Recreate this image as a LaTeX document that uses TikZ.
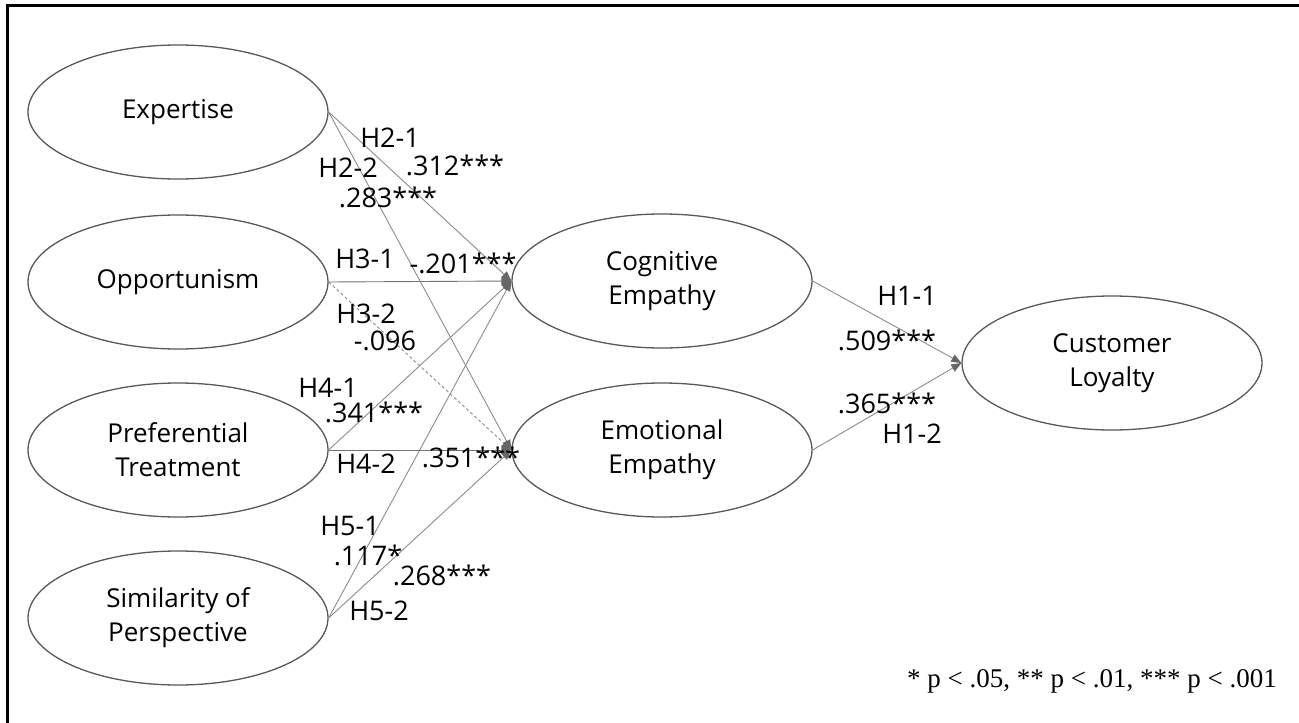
\documentclass[tikz,border=0pt]{standalone}
\usepackage{fontspec}
\setmainfont{Open Sans}
\newfontfamily\legendfont{Liberation Serif}
\usetikzlibrary{shapes.geometric,arrows.meta}

\tikzset{
  construct/.style={ellipse, draw=black!65, line width=1.3pt,
    minimum width=300pt, minimum height=134pt, inner sep=0pt,
    align=center, font=\fontsize{26}{34}\selectfont},
  effect/.style={draw=black!45, line width=0.9pt,
    -{Triangle[length=10pt,width=8pt,color=black!60]}},
  nseffect/.style={effect, dash pattern=on 3pt off 2.5pt},
  coef/.style={anchor=base, inner sep=0pt, font=\fontsize{27}{32}\selectfont}
}

\begin{document}
\begin{tikzpicture}[x=1pt, y=-1pt]
  \useasboundingbox (0,0) rectangle (1299,723);
  \fill[white] (0,0) rectangle (1299,723);

  % frame
  \draw[line width=3pt] (7.5,723) -- (7.5,5.5) -- (1299,5.5);

  % antecedents
  \node[construct] (exp) at (178,112) {Expertise};
  \node[construct] (opp) at (178,282) {Opportunism};
  \node[construct] (pre) at (178,450) {Preferential\\Treatment};
  \node[construct] (sim) at (178,618) {Similarity of\\Perspective};

  % mediators
  \node[construct] (cog) at (662,281) {Cognitive\\Empathy};
  \node[construct] (emo) at (662,450) {Emotional\\Empathy};

  % outcome
  \node[construct] (loy) at (1112,363) {Customer\\Loyalty};

  % paths to cognitive empathy
  \draw[effect] (exp.east) -- (cog.west);
  \draw[effect, draw=black!55] (opp.east) -- (cog.west);
  \draw[effect] (pre.east) -- (cog.west);
  \draw[effect] (sim.east) -- (cog.west);

  % paths to emotional empathy
  \draw[effect] (exp.east) -- (emo.west);
  \draw[nseffect] (opp.east) -- (emo.west);
  \draw[effect, draw=black!55] (pre.east) -- (emo.west);
  \draw[effect] (sim.east) -- (emo.west);

  % paths to loyalty
  \draw[effect] (cog.east) -- (loy.west);
  \draw[effect] (emo.east) -- (loy.west);

  % hypothesis labels and coefficients
  \node[coef] (h21) at (390,147) {H2-1};
  \node[coef] (h22) at (348,177) {H2-2};
  \node[coef] (c21) at (455,175) {.312***};
  \node[coef] (c22) at (388,207) {.283***};
  \node[coef] (h31) at (365,268) {H3-1};
  \node[coef] (c31) at (463,273) {-.201***};
  \node[coef] (h32) at (366,323) {H3-2};
  \node[coef] (c32) at (385,350) {-.096};
  \node[coef] (h41) at (328,397) {H4-1};
  \node[coef] (c41) at (374,422) {.341***};
  \node[coef] (h42) at (366,473) {H4-2};
  \node[coef] (c42) at (471,467) {.351***};
  \node[coef] (h51) at (350,535) {H5-1};
  \node[coef] (c51) at (368,565) {.117*};
  \node[coef] (c52) at (442,585) {.268***};
  \node[coef] (h52) at (379,620) {H5-2};
  \node[coef] (h11) at (907,305) {H1-1};
  \node[coef] (c11) at (887,350) {.509***};
  \node[coef] (c12) at (887,413) {.365***};
  \node[coef] (h12) at (912,443) {H1-2};

  % significance note
  \node[anchor=base east, inner sep=0pt, font=\legendfont\fontsize{27}{32}\selectfont]
    (note) at (1277,687) {* p < .05, ** p < .01, *** p < .001};
\end{tikzpicture}
\end{document}
